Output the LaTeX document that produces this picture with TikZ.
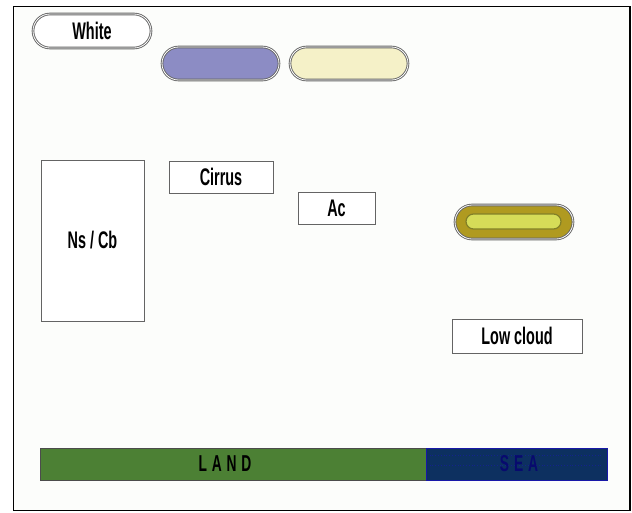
\documentclass[tikz,border=0pt]{standalone}
\usepackage{fontspec}
\newfontfamily\labelfont[FakeStretch=0.6]{Liberation Sans}
\usetikzlibrary{shapes.misc}

\definecolor{paper}{RGB}{252,253,251}
\definecolor{lavender}{RGB}{140,140,196}
\definecolor{cream}{RGB}{245,241,200}
\definecolor{olive}{RGB}{176,154,32}
\definecolor{lime}{RGB}{214,220,88}
\definecolor{limeedge}{RGB}{130,128,40}
\definecolor{landgreen}{RGB}{76,128,52}
\definecolor{seanavy}{RGB}{13,48,96}
\definecolor{seaedge}{RGB}{24,24,168}
\definecolor{seadots}{RGB}{20,34,140}
\definecolor{seatext}{RGB}{8,10,110}
\definecolor{rim}{RGB}{100,100,100}

\tikzset{
  pill/.style={rounded rectangle, draw=rim, line width=0.9pt,
    double=white, double distance=0.8pt, inner sep=0pt,
    minimum width=118pt, minimum height=34pt,
    font=\labelfont\bfseries\fontsize{24}{26}\selectfont},
  labelbox/.style={rectangle, draw=rim, line width=1pt, fill=white,
    inner sep=0pt, font=\labelfont\bfseries\fontsize{24}{26}\selectfont},
  bar/.style={rectangle, inner sep=0pt, minimum height=32pt, line width=1pt},
  bartext/.style={inner sep=0pt,
    font=\labelfont\bfseries\fontsize{23}{25}\selectfont\addfontfeature{LetterSpace=21}},
}

\begin{document}
\begin{tikzpicture}[x=1pt,y=-1pt]
  \useasboundingbox (0,0) rectangle (632,512);
  % page frame
  \draw[line width=1.6pt, fill=paper] (13.5,6.5) rectangle (630,510.5);

  % colour key pills
  \node[pill, fill=white] (white) at (92,31) {White};
  \node[pill, fill=lavender, minimum height=33pt, minimum width=117pt] (purple) at (220.5,63.5) {};
  \node[pill, fill=cream, minimum height=33pt] (yellow) at (349,63.5) {};

  % cloud labels
  \node[labelbox, minimum width=103pt, minimum height=161pt] (nscb) at (92.5,240.5) {Ns / Cb};
  \node[labelbox, minimum width=104pt, minimum height=32pt] (cirrus) at (221,177) {Cirrus};
  \node[labelbox, minimum width=77pt, minimum height=32pt] (ac) at (336.5,208) {Ac};
  \node[labelbox, minimum width=130pt, minimum height=34pt] (lowcloud) at (517,336) {Low cloud};

  % olive pill with glowing inner bar
  \node[pill, fill=olive] (olivepill) at (514,222) {};
  \node[rounded rectangle, fill=lime, draw=limeedge, line width=1.2pt,
        minimum width=95pt, minimum height=15pt, inner sep=0pt] (glow) at (513.5,221.5) {};

  % ground strip
  \node[bar, fill=landgreen, draw=black!70, minimum width=386pt] (land) at (233,464) {};
  \node[bar, fill=seanavy, draw=seaedge, minimum width=181pt] (sea) at (516.5,464) {};
  \draw[seadots, dotted, line width=0.8pt]
    ([xshift=4pt,yshift=-1pt]sea.west) -- ([xshift=-6pt,yshift=-1pt]sea.east);
  \draw[seadots, dotted, line width=0.8pt]
    ([xshift=4pt,yshift=9pt]sea.west) -- ([xshift=-6pt,yshift=9pt]sea.east);
  \node[bartext, text=black] (landtext) at (225,464) {LAND};
  \node[bartext, text=seatext] (seatxt) at (519,464) {SEA};
\end{tikzpicture}
\end{document}
